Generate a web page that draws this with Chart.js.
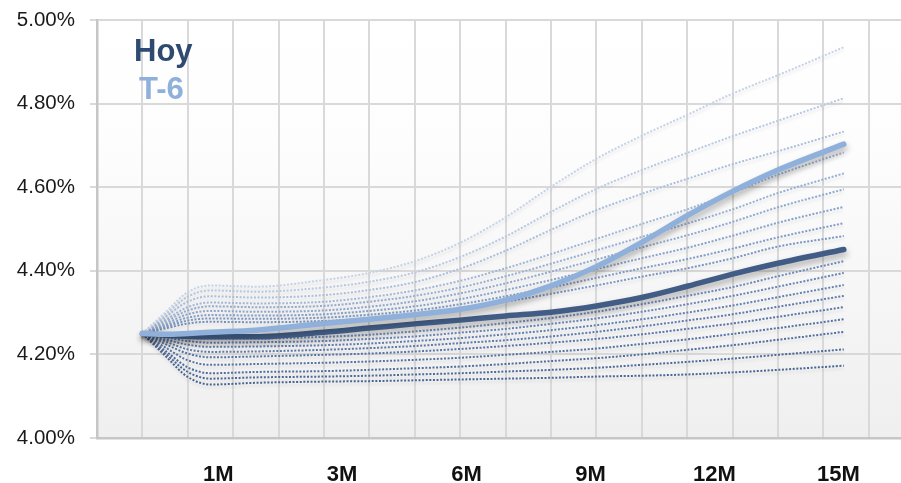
<!DOCTYPE html>
<html><head><meta charset="utf-8">
<script src="https://cdn.jsdelivr.net/npm/chart.js@4.4.1/dist/chart.umd.min.js"></script>
<style>
html,body{margin:0;padding:0;background:#fff;}
#wrap{position:relative;width:901px;height:483px;overflow:hidden;}
.lg{position:absolute;font-family:"Liberation Sans",Arial,sans-serif;font-weight:bold;font-size:31px;line-height:31px;white-space:nowrap;}
</style></head><body>
<div id="wrap"><canvas id="c"></canvas>
<div class="lg" style="left:134px;top:35px;color:#2e4a70">Hoy</div>
<div class="lg" style="left:139px;top:73px;color:#8eb0da">T-6</div>
</div>
<script>
// x positions of the data points (grid units: one unit = one vertical gridline)
const xPoints = [0, 0.5, 1, 1.5, 2.5, 4, 5, 6, 7, 8, 9, 10, 11, 12, 13, 14, 15.45];
const hoy = [4.25, 4.246, 4.243, 4.242, 4.242, 4.253, 4.263, 4.273, 4.282, 4.292, 4.301, 4.316, 4.336, 4.363, 4.392, 4.418, 4.451];
const t6  = [4.25, 4.248, 4.250, 4.253, 4.258, 4.274, 4.284, 4.295, 4.308, 4.330, 4.364, 4.410, 4.468, 4.532, 4.590, 4.641, 4.703];
const s1  = [4.25, 4.300, 4.349, 4.365, 4.362, 4.378, 4.395, 4.423, 4.467, 4.528, 4.601, 4.668, 4.723, 4.773, 4.824, 4.868, 4.935];
const s2  = [4.25, 4.295, 4.338, 4.353, 4.350, 4.360, 4.374, 4.396, 4.433, 4.482, 4.541, 4.596, 4.641, 4.682, 4.722, 4.759, 4.813];
const s3  = [4.25, 4.289, 4.326, 4.339, 4.336, 4.342, 4.354, 4.373, 4.405, 4.448, 4.498, 4.545, 4.584, 4.620, 4.655, 4.686, 4.733];
const s4  = [4.25, 4.282, 4.313, 4.324, 4.322, 4.326, 4.337, 4.353, 4.376, 4.406, 4.440, 4.476, 4.512, 4.547, 4.587, 4.630, 4.683];
const s5  = [4.25, 4.278, 4.305, 4.315, 4.313, 4.316, 4.326, 4.340, 4.360, 4.387, 4.417, 4.449, 4.481, 4.513, 4.547, 4.586, 4.633];
const s6  = [4.25, 4.273, 4.296, 4.304, 4.302, 4.305, 4.314, 4.327, 4.346, 4.370, 4.398, 4.427, 4.456, 4.485, 4.517, 4.552, 4.595];
const s7  = [4.25, 4.269, 4.288, 4.294, 4.293, 4.296, 4.304, 4.315, 4.332, 4.354, 4.378, 4.404, 4.430, 4.455, 4.484, 4.515, 4.553];
const s8  = [4.25, 4.266, 4.281, 4.286, 4.285, 4.288, 4.295, 4.305, 4.320, 4.339, 4.360, 4.383, 4.406, 4.428, 4.453, 4.480, 4.514];
const s9  = [4.25, 4.262, 4.274, 4.278, 4.277, 4.280, 4.286, 4.295, 4.308, 4.326, 4.345, 4.365, 4.386, 4.406, 4.430, 4.458, 4.483];
const s10 = [4.25, 4.245, 4.239, 4.238, 4.238, 4.242, 4.247, 4.255, 4.264, 4.275, 4.287, 4.302, 4.320, 4.340, 4.361, 4.387, 4.423];
const s11 = [4.25, 4.241, 4.232, 4.228, 4.229, 4.232, 4.237, 4.243, 4.252, 4.261, 4.273, 4.286, 4.302, 4.320, 4.340, 4.362, 4.395];
const s12 = [4.25, 4.236, 4.223, 4.218, 4.219, 4.222, 4.226, 4.232, 4.239, 4.248, 4.258, 4.270, 4.284, 4.300, 4.317, 4.337, 4.366];
const s13 = [4.25, 4.231, 4.212, 4.206, 4.207, 4.211, 4.215, 4.220, 4.227, 4.234, 4.243, 4.254, 4.267, 4.281, 4.296, 4.314, 4.340];
const s14 = [4.25, 4.225, 4.202, 4.193, 4.195, 4.199, 4.202, 4.207, 4.213, 4.220, 4.228, 4.237, 4.248, 4.261, 4.274, 4.290, 4.313];
const s15 = [4.25, 4.217, 4.186, 4.175, 4.177, 4.180, 4.183, 4.187, 4.192, 4.199, 4.206, 4.214, 4.225, 4.236, 4.249, 4.263, 4.284];
const s16 = [4.25, 4.209, 4.169, 4.155, 4.158, 4.160, 4.163, 4.167, 4.171, 4.177, 4.184, 4.191, 4.200, 4.211, 4.222, 4.235, 4.254];
const s17 = [4.25, 4.203, 4.158, 4.142, 4.145, 4.147, 4.149, 4.152, 4.155, 4.159, 4.163, 4.168, 4.175, 4.182, 4.190, 4.199, 4.212];
const s18 = [4.25, 4.197, 4.146, 4.128, 4.132, 4.135, 4.136, 4.138, 4.140, 4.142, 4.144, 4.147, 4.149, 4.152, 4.157, 4.163, 4.173];
const tickLabels = ['1M', '3M', '6M', '9M', '12M', '15M'];
const tickPositions = [1.67, 4.40, 7.14, 9.87, 12.60, 15.33];
const seriesNames = ['Hoy', 'T-6'];

const scenarios = [s1,s2,s3,s4,s5,s6,s7,s8,s9,s10,s11,s12,s13,s14,s15,s16,s17,s18];
const dotColors = ['#c5d2e7','#b8c9e3','#abbfdd','#a1b7d8','#98b0d4','#90a9d0','#88a2cb','#819cc7','#7a96c3',
                   '#6f8cbc','#6986b7','#6380b2','#5e7bad','#5976a8','#5572a3','#516e9e','#4d6a99','#496694'];
const FONT = '"Liberation Sans", Arial, sans-serif';
const X_MIN = -1, X_MAX = 16.71;
const gridPositions = Array.from({length: 18}, (_, i) => i - 1);

const pts = arr => xPoints.map((x, i) => ({x: x, y: arr[i]}));

const datasets = [];
datasets.push({label: seriesNames[1], data: pts(t6), borderColor: '#8eb0da', borderWidth: 5.5,
  pointRadius: 0, cubicInterpolationMode: 'monotone', borderCapStyle: 'round', borderJoinStyle: 'round', order: 0});
datasets.push({label: seriesNames[0], data: pts(hoy), borderColor: '#415d86', borderWidth: 5.5,
  pointRadius: 0, cubicInterpolationMode: 'monotone', borderCapStyle: 'round', borderJoinStyle: 'round', order: 1});
scenarios.forEach((s, i) => datasets.push({label: 'esc' + (i + 1), data: pts(s), borderColor: dotColors[i],
  borderWidth: 2, borderDash: [2, 1.6], pointRadius: 0, cubicInterpolationMode: 'monotone', order: 2 + i}));

const bgPlugin = {
  id: 'bg',
  beforeDraw(chart) {
    const {ctx, chartArea: a} = chart;
    const g = ctx.createLinearGradient(0, a.top, 0, a.bottom);
    g.addColorStop(0, '#ffffff'); g.addColorStop(0.3, '#fdfdfd'); g.addColorStop(1, '#efefef');
    ctx.save(); ctx.fillStyle = g; ctx.fillRect(a.left, a.top, a.right - a.left, a.bottom - a.top); ctx.restore();
  }
};
const shadowPlugin = {
  id: 'shadow',
  beforeDatasetDraw(chart, args) {
    const ctx = chart.ctx; const main = args.index < 2;
    ctx.save();
    ctx.shadowColor = main ? 'rgba(0,0,0,0.30)' : 'rgba(0,0,0,0.10)';
    ctx.shadowBlur = main ? 6 : 3; ctx.shadowOffsetX = main ? 1 : 0; ctx.shadowOffsetY = main ? 4 : 3;
  },
  afterDatasetDraw(chart) { chart.ctx.restore(); }
};

new Chart(document.getElementById('c'), {
  type: 'line',
  data: {datasets: datasets},
  plugins: [bgPlugin, shadowPlugin],
  options: {
    responsive: true, maintainAspectRatio: false, animation: false,
    layout: {padding: {top: 20, left: 0, right: 0, bottom: 0}},
    plugins: {legend: {display: false}, tooltip: {enabled: false}},
    scales: {
      x: {type: 'linear', position: 'bottom', min: X_MIN, max: X_MAX,
        afterBuildTicks: s => { s.ticks = gridPositions.map(v => ({value: v})); },
        afterFit: s => { s.height = 0; s.paddingLeft = 0; s.paddingRight = 0; },
        ticks: {display: false},
        grid: {color: '#d9d9d9', lineWidth: 2, drawTicks: false},
        border: {display: true, color: '#c6c6c6', width: 2.5}},
      xl: {type: 'linear', position: 'bottom', min: X_MIN, max: X_MAX,
        afterBuildTicks: s => { s.ticks = tickPositions.map(v => ({value: v})); },
        afterFit: s => { s.height = 45; s.paddingLeft = 0; s.paddingRight = 0; },
        ticks: {autoSkip: false, maxRotation: 0, minRotation: 0, padding: 24, color: '#111111',
          font: {family: FONT, size: 22, weight: 'bold'}, callback: (v, i) => tickLabels[i]},
        grid: {display: false, drawTicks: false}, border: {display: false}},
      y: {min: 4, max: 5,
        afterFit: s => { s.width = 97; s.paddingTop = 0; s.paddingBottom = 0; },
        ticks: {stepSize: 0.2, padding: 15, color: '#1a1a1a', font: {family: FONT, size: 20.5},
          callback: v => v.toFixed(2) + '%'},
        grid: {color: '#d9d9d9', lineWidth: 2, tickLength: 7},
        border: {color: '#c6c6c6', width: 2.5}}
    }
  }
});
</script>
</body></html>
